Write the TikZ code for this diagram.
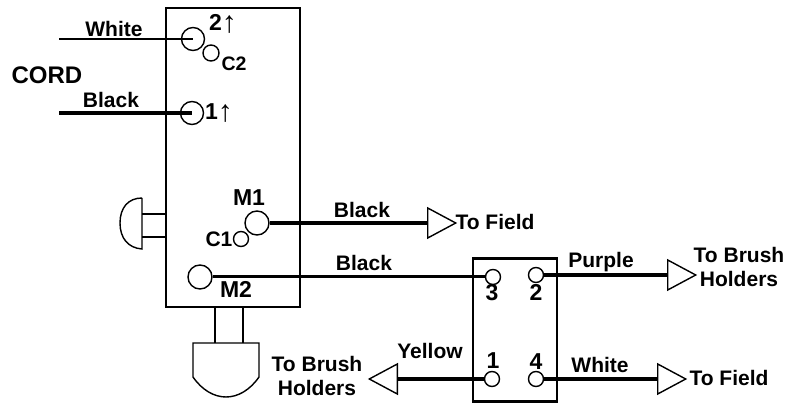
\documentclass[tikz,border=0pt]{standalone}
\usepackage{fontspec}
\setmainfont{Liberation Sans}
\usepackage{tikz}
\usetikzlibrary{shapes}
\usetikzlibrary{shapes.geometric}
\newcommand{\uparr}{{\fontsize{30}{30}\selectfont\mdseries\raisebox{-1.5pt}{↑}}}

\begin{document}
\begin{tikzpicture}[x=1pt,y=-1pt,
        lbl/.style={inner sep=0pt,font=\fontsize{21}{24.5}\selectfont\bfseries,align=center},
        big/.style={inner sep=0pt,font=\fontsize{23}{26}\selectfont\bfseries},
        small/.style={inner sep=0pt,font=\fontsize{19.5}{22}\selectfont\bfseries},
        term/.style={draw=black,circle,line width=1.4pt,inner sep=0pt,minimum size=#1,fill=white},
        tri/.style={draw=black,isosceles triangle,isosceles triangle stretches,line width=1.4pt,inner sep=0pt,minimum width=30pt,minimum height=28pt,anchor=lower side},
        housing/.style={draw=black,rectangle,line width=2.6pt,inner sep=0pt},
        every edge/.style={draw=black,line width=3.5pt}]
        \useasboundingbox (0, 0) rectangle (803, 403);

        \node[housing, minimum width=134pt, minimum height=299pt] (S) at (233, 157.5) {};

        \node[housing, minimum width=84pt, minimum height=143pt] (R) at (515, 330) {};

        \coordinate (WI) at (59, 39);

        \coordinate (BI) at (59, 113);

        \node[term=23pt] (T2) at (193, 39) {};

        \node[term=16pt] (C2) at (211, 53) {};

        \node[term=23pt] (T1) at (192, 113) {};

        \node[term=24pt] (M1) at (257, 223) {};

        \node[term=15pt] (C1) at (241, 239) {};

        \node[term=24pt] (M2) at (200, 277) {};

        \node[term=15pt] (R3) at (493, 277) {};

        \node[term=15pt] (R2) at (536, 275) {};

        \node[term=15pt] (R1) at (492, 379) {};

        \node[term=15pt] (R4) at (536, 379) {};

        \node[tri] (FA) at (427, 223) {};

        \node[tri] (BA) at (667, 275) {};

        \node[tri] (FB) at (657, 379) {};

        \node[tri, shape border rotate=180] (BB) at (398, 379) {};

        \path (WI) edge[line width=2.4pt] (T2.center);
        \path (BI) edge (T1.center);
        \path (M1) edge (FA.lower side);
        \path (M2) edge[line width=3pt] (R3);
        \path (R2) edge (BA.lower side);
        \path (R1) edge (BB.lower side);
        \path (R4) edge (FB.lower side);

        % knobs
        \draw[line width=1.4pt] (142, 214) -- (166, 214) (142, 237) -- (166, 237);
        \draw[line width=1.4pt] (142, 198) -- (142, 249) .. controls (128, 248) and (120, 238) .. (120, 223) .. controls (120, 208) and (128, 198) .. (142, 198);
        \draw[line width=1.4pt] (215, 307) -- (215, 343) (243, 307) -- (243, 343);
        \draw[line width=1.4pt] (193, 343) -- (259, 343) -- (259, 377) .. controls (250, 390) and (238, 397) .. (226, 397) .. controls (214, 397) and (202, 390) .. (193, 377) -- cycle;

        \node[lbl] (LW) at (114, 29) {White};
        \node[lbl, font=\fontsize{24}{28}\selectfont\bfseries] (LC) at (47, 75) {CORD};
        \node[lbl] (LB) at (111, 100) {Black};
        \node[big] (N2) at (223, 24) {2\uparr};
        \node[small] (NC2) at (234, 64) {C2};
        \node[big] (N1) at (219, 113) {1\uparr};
        \node[big] (NM1) at (249, 198) {M1};
        \node[lbl] (NC1) at (219, 239) {C1};
        \node[big] (NM2) at (236, 289) {M2};
        \node[lbl] (LB1) at (362, 210) {Black};
        \node[lbl] (LB2) at (364, 263) {Black};
        \node[lbl] (LF1) at (495, 222) {To Field};
        \node[lbl] (LP) at (601, 262) {Purple};
        \node[lbl] (LH1) at (739, 267) {To Brush\\Holders};
        \node[big] (N3) at (492, 293) {3};
        \node[big] (N22) at (536, 292) {2};
        \node[lbl] (LY) at (430, 351) {Yellow};
        \node[big] (N11) at (493, 361) {1};
        \node[big] (N4) at (536, 362) {4};
        \node[lbl] (LW2) at (600, 365) {White};
        \node[lbl] (LF2) at (729, 378) {To Field};
        \node[lbl] (LH2) at (317, 376) {To Brush\\Holders};

    \end{tikzpicture}
\end{document}
